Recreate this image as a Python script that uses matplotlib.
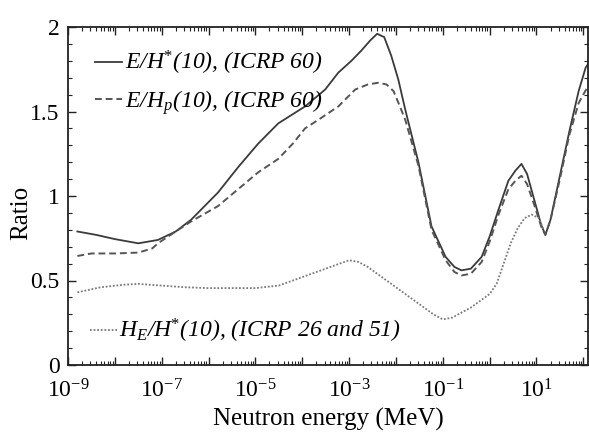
import numpy as np
import matplotlib
matplotlib.use("Agg")
import matplotlib.pyplot as plt
from matplotlib.ticker import LogLocator, FixedLocator, MultipleLocator, FuncFormatter

plt.rcParams['font.family'] = ['Liberation Serif', 'DejaVu Serif']
plt.rcParams['mathtext.fontset'] = 'custom'
plt.rcParams['mathtext.rm'] = 'Liberation Serif'
plt.rcParams['mathtext.it'] = 'Liberation Serif:italic'
plt.rcParams['mathtext.bf'] = 'Liberation Serif:bold'

# log10 of neutron energy (MeV) and ratio values
logE_star = [-8.8, -8.4, -8.0, -7.5, -7.08, -6.7, -6.37, -5.8, -5.37, -4.94,
             -4.51, -3.94, -3.51, -3.23, -2.95, -2.74, -2.55, -2.4, -2.25,
             -2.1, -1.95, -1.8, -1.52, -1.24, -0.94, -0.75, -0.6, -0.4, -0.17,
             0.0, 0.19, 0.4, 0.55, 0.68, 0.8, 0.95, 1.1, 1.19, 1.3, 1.5, 1.7,
             1.9, 2.05, 2.1]
ratio_star = [0.79, 0.77, 0.745, 0.72, 0.74, 0.79, 0.86, 1.02, 1.17, 1.31,
              1.43, 1.53, 1.63, 1.73, 1.80, 1.86, 1.92, 1.96, 1.94,
              1.83, 1.69, 1.51, 1.20, 0.82, 0.64, 0.58, 0.56, 0.57, 0.64,
              0.76, 0.92, 1.09, 1.15, 1.19, 1.13, 0.98, 0.83, 0.77, 0.86, 1.12,
              1.38, 1.62, 1.76, 1.78]

logE_p = [-8.8, -8.5, -8.0, -7.5, -7.2, -7.08, -6.7, -6.37, -5.8, -5.37,
          -4.94, -4.51, -4.2, -3.94, -3.66, -3.23, -2.87, -2.6, -2.38, -2.2,
          -2.05, -1.9, -1.8, -1.52, -1.24, -0.94, -0.75, -0.6, -0.4, -0.17,
          0.0, 0.19, 0.4, 0.55, 0.68, 0.8, 0.95, 1.1, 1.19, 1.3, 1.5, 1.7,
          1.9, 2.1]
ratio_p = [0.645, 0.66, 0.66, 0.665, 0.69, 0.72, 0.79, 0.85, 0.94, 1.04,
           1.14, 1.22, 1.31, 1.40, 1.45, 1.53, 1.63, 1.66, 1.67, 1.66,
           1.62, 1.52, 1.45, 1.18, 0.80, 0.62, 0.55, 0.53, 0.54, 0.61,
           0.73, 0.89, 1.04, 1.09, 1.12, 1.07, 0.95, 0.82, 0.77, 0.86, 1.10,
           1.36, 1.55, 1.65]

logE_E = [-8.8, -8.3, -7.8, -7.5, -7.0, -6.5, -6.0, -5.5, -5.0, -4.5, -4.0,
          -3.5, -3.0, -2.8, -2.6, -2.2, -1.8, -1.5, -1.2, -1.0, -0.8, -0.6,
          -0.4, -0.2, 0.0, 0.15, 0.3, 0.45, 0.6, 0.75, 0.9, 1.05, 1.15]
ratio_E = [0.43, 0.46, 0.475, 0.48, 0.47, 0.46, 0.455, 0.455, 0.455, 0.47, 0.52,
           0.57, 0.62, 0.61, 0.58, 0.50, 0.42, 0.36, 0.30, 0.27, 0.28, 0.31,
           0.34, 0.38, 0.42, 0.48, 0.60, 0.72, 0.81, 0.87, 0.89, 0.87, 0.80]

label_star = r'E/H$^{*}$(10), (ICRP 60)'
label_p = r'E/H$_{p}$(10), (ICRP 60)'
label_E = r'H$_{E}$/H$^{*}$(10), (ICRP 26 and 51)'

fig = plt.figure(figsize=(5.89, 4.32), dpi=100)
ax = fig.add_axes([68/589, 1-365/432, 520/589, 338/432])

l1, = ax.plot(10**np.array(logE_star), ratio_star, color='#3a3a3a', lw=1.3,
              ls='-', label=label_star)
l2, = ax.plot(10**np.array(logE_p), ratio_p, color='#555555', lw=1.4,
              ls=(0, (3.5, 2)), label=label_p)
l3, = ax.plot(10**np.array(logE_E), ratio_E, color='#7a7a7a', lw=1.3,
              ls=(0, (1, 1)), label=label_E)

ax.set_xscale('log')
ax.set_xlim(1e-9, 10**2.1)
ax.set_ylim(0, 2)

ax.xaxis.set_major_locator(FixedLocator([10.0**k for k in range(-9, 3)]))
ax.xaxis.set_minor_locator(LogLocator(base=10, subs=np.arange(2, 10), numticks=100))
def fmt(v, pos):
    k = int(round(np.log10(v)))
    if k % 2 == 0:
        return ''
    return r'$10^{%d}$' % k
ax.xaxis.set_major_formatter(FuncFormatter(fmt))
ax.yaxis.set_major_locator(MultipleLocator(0.5))
ax.yaxis.set_minor_locator(MultipleLocator(0.1))
ax.yaxis.set_major_formatter(FuncFormatter(lambda v, p: '%g' % v))

ax.tick_params(which='both', direction='in', top=True, right=True,
               labelsize=17, color='#222222')
ax.tick_params(which='major', length=6, width=1.0)
ax.tick_params(which='minor', length=3, width=0.8)
ax.tick_params(axis='x', pad=10)
ax.tick_params(axis='y', pad=6)
for s in ax.spines.values():
    s.set_linewidth(1.3)
    s.set_color('#222222')

ax.set_xlabel('Neutron energy (MeV)', fontsize=18, labelpad=4)
ax.set_ylabel('Ratio', fontsize=18)
ax.yaxis.set_label_coords(-0.068, 0.45)

prop = {'family': 'Liberation Serif', 'style': 'italic', 'size': 17}
leg1 = ax.legend(handles=[l1, l2], loc='upper left', frameon=False, prop=prop,
                 handlelength=1.15, handletextpad=0.1, labelspacing=0.45,
                 borderaxespad=0.0, bbox_to_anchor=(0.034, 0.962))
ax.add_artist(leg1)
ax.legend(handles=[l3], loc='lower left', frameon=False, prop=prop,
          handlelength=1.15, handletextpad=0.1, borderaxespad=0.0,
          bbox_to_anchor=(0.024, 0.030))

fig.savefig('out.png', dpi=100)
